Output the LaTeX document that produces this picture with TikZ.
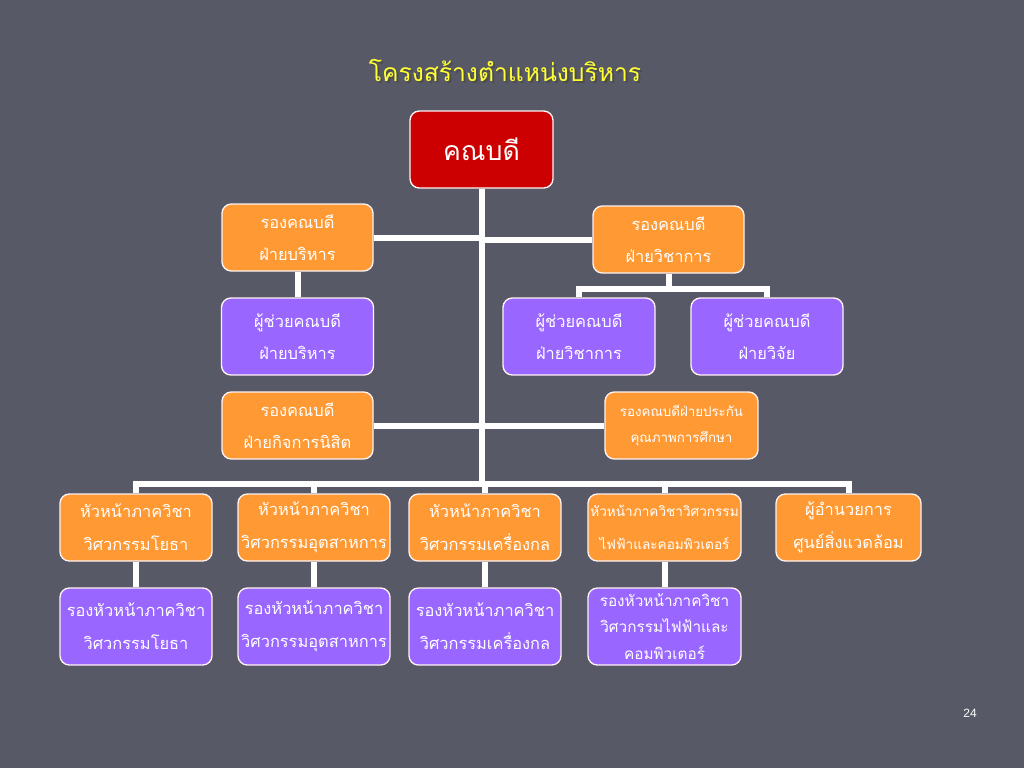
\documentclass[tikz,border=0pt]{standalone}
\usepackage{fontspec}
\newfontfamily\thaifont[Script=Thai]{Loma}
\newfontfamily\numfont{Liberation Sans}
\usetikzlibrary{backgrounds}

\definecolor{slidebg}{HTML}{575966}
\definecolor{boxorange}{HTML}{FF9933}
\definecolor{boxpurple}{HTML}{9966FF}
\definecolor{boxred}{HTML}{CC0000}
\definecolor{titleyellow}{HTML}{FFFF33}

\tikzset{
  box/.style={draw=white!80!pink, line width=1pt, rounded corners=7pt,
    text=white, align=center, inner sep=0pt,
    font=\thaifont\fontsize{12.3}{24.5}\selectfont},
  vpbox/.style={box, fill=boxorange, minimum width=151*0.75pt, minimum height=67*0.75pt},
  asstbox/.style={box, fill=boxpurple, minimum width=152*0.75pt, minimum height=77*0.75pt},
  link/.style={white, line width=4.5pt},
}

\begin{document}
\begin{tikzpicture}[x=0.75pt, y=-0.75pt]

  % slide background
  \begin{pgfonlayer}{background}
    \fill[slidebg] (0,0) rectangle (1024,768);
  \end{pgfonlayer}

  % title with shadow
  \node[font=\thaifont\fontsize{18.5}{22}\selectfont, text=black!70] at (507,72) {โครงสร้างตำแหน่งบริหาร};
  \node[font=\thaifont\fontsize{18.5}{22}\selectfont, text=titleyellow] (title) at (505,70) {โครงสร้างตำแหน่งบริหาร};

  % dean
  \node[box, fill=boxred, minimum width=143*0.75pt, minimum height=77*0.75pt,
    font=\thaifont\fontsize{20}{24}\selectfont] (dean) at (481.5,149.5) {คณบดี};

  % deputy deans and assistants
  \node[vpbox] (vpadm) at (297.5,237.5) {รองคณบดี\\ฝ่ายบริหาร};
  \node[vpbox] (vpacad) at (668.5,239.5) {รองคณบดี\\ฝ่ายวิชาการ};
  \node[asstbox] (asstadm) at (297.5,336.5) {ผู้ช่วยคณบดี\\ฝ่ายบริหาร};
  \node[asstbox] (asstacad) at (579,336.5) {ผู้ช่วยคณบดี\\ฝ่ายวิชาการ};
  \node[asstbox] (asstres) at (767,336.5) {ผู้ช่วยคณบดี\\ฝ่ายวิจัย};
  \node[vpbox] (vpstu) at (297.5,425.5) {รองคณบดี\\ฝ่ายกิจการนิสิต};
  \node[vpbox, minimum width=153*0.75pt,
    font=\thaifont\fontsize{10}{20}\selectfont] (vpqa) at (681.5,425.5) {รองคณบดีฝ่ายประกัน\\คุณภาพการศึกษา};

  % heads of department
  \def\rowhead{527.5}
  \node[vpbox, minimum width=152*0.75pt] (head1) at (136,\rowhead) {หัวหน้าภาควิชา\\วิศวกรรมโยธา};
  \node[vpbox, minimum width=152*0.75pt] (head2) at (314,\rowhead) {หัวหน้าภาควิชา\\วิศวกรรมอุตสาหการ};
  \node[vpbox, minimum width=152*0.75pt] (head3) at (485,\rowhead) {หัวหน้าภาควิชา\\วิศวกรรมเครื่องกล};
  \node[vpbox, minimum width=153*0.75pt,
    font=\thaifont\fontsize{10.2}{24.5}\selectfont] (head4) at (664.5,\rowhead) {หัวหน้าภาควิชาวิศวกรรม\\ไฟฟ้าและคอมพิวเตอร์};
  \node[vpbox, minimum width=145*0.75pt] (head5) at (848.5,\rowhead) {ผู้อำนวยการ\\ศูนย์สิ่งแวดล้อม};

  % deputy heads
  \def\rowdep{626.5}
  \node[asstbox] (dep1) at (136,\rowdep) {รองหัวหน้าภาควิชา\\วิศวกรรมโยธา};
  \node[asstbox] (dep2) at (314,\rowdep) {รองหัวหน้าภาควิชา\\วิศวกรรมอุตสาหการ};
  \node[asstbox] (dep3) at (485,\rowdep) {รองหัวหน้าภาควิชา\\วิศวกรรมเครื่องกล};
  \node[asstbox, minimum width=153*0.75pt,
    font=\thaifont\fontsize{11.5}{20}\selectfont] (dep4) at (664.5,\rowdep) {รองหัวหน้าภาควิชา\\วิศวกรรมไฟฟ้าและ\\คอมพิวเตอร์};

  % page number
  \node[font=\numfont\fontsize{9}{10}\selectfont, text=white] (pagenum) at (970,713) {24};

  % connectors
  \coordinate (hub) at (481.5,484);
  \coordinate (acadbar) at (668.5,289);
  \begin{pgfonlayer}{background}
    \draw[link] (dean.south) -- (hub);
    \draw[link] (vpadm.east) -- (vpadm.east -| hub);
    \draw[link] (vpacad.west) -- (vpacad.west -| hub);
    \draw[link] (vpstu.east) -- (vpstu.east -| hub);
    \draw[link] (vpqa.west) -- (vpqa.west -| hub);
    \draw[link] (vpadm.south) -- (asstadm.north);
    \draw[link] (vpacad.south) -- (acadbar);
    \draw[link] (asstacad.north) |- (acadbar) -| (asstres.north);
    \draw[link] (head1.north) |- (hub) -| (head5.north);
    \foreach \i in {2,3,4}
      \draw[link] (head\i.north) -- (head\i.north |- hub);
    \foreach \i in {1,2,3,4}
      \draw[link] (head\i.south) -- (dep\i.north);
  \end{pgfonlayer}

\end{tikzpicture}
\end{document}
